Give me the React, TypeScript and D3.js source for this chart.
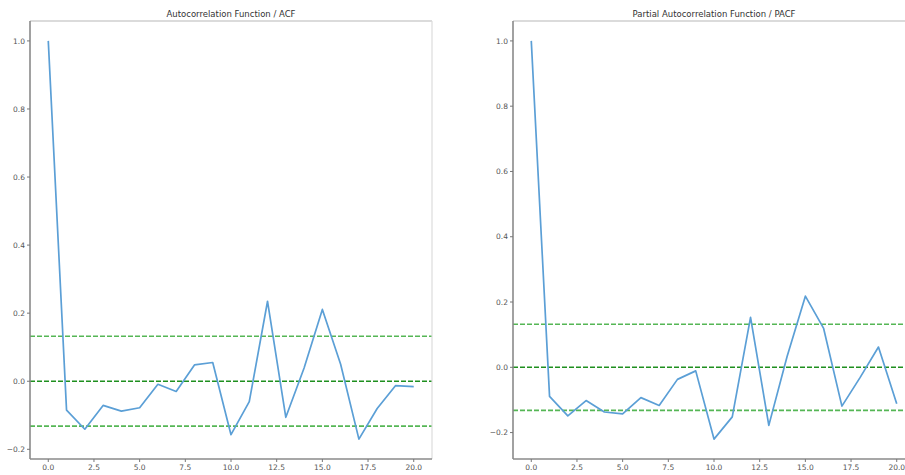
import React, { useEffect, useRef } from "react";
import * as d3 from "d3";

// lags 0..20
const lags = d3.range(0, 21);

const acfValues = [
  1.0, -0.085, -0.141, -0.071, -0.088, -0.078, -0.009, -0.03, 0.048, 0.055,
  -0.157, -0.06, 0.235, -0.106, 0.039, 0.211, 0.05, -0.17, -0.08, -0.013, -0.016,
];

const pacfValues = [
  1.0, -0.089, -0.149, -0.102, -0.137, -0.143, -0.093, -0.117, -0.037, -0.011,
  -0.22, -0.152, 0.153, -0.178, 0.033, 0.218, 0.119, -0.119, -0.031, 0.062, -0.112,
];

const confBound = 0.132;

const xTicks = [0, 2.5, 5, 7.5, 10, 12.5, 15, 17.5, 20];
const yTicks = [-0.2, 0, 0.2, 0.4, 0.6, 0.8, 1.0];

const panels = [
  { title: "Autocorrelation Function / ACF", values: acfValues, left: 30 },
  { title: "Partial Autocorrelation Function / PACF", values: pacfValues, left: 513 },
];

const W = 905;
const H = 475;
const panelW = 402;
const top = 21;
const bottom = 459;

const App = () => {
  const ref = useRef<SVGSVGElement>(null);

  useEffect(() => {
    const svg = d3.select(ref.current);
    svg.selectAll("*").remove();

    panels.forEach((p) => {
      const g = svg.append("g");
      const x = d3.scaleLinear().domain([-1, 21]).range([p.left, p.left + panelW]);
      const lo = d3.min(p.values)!;
      const hi = d3.max(p.values)!;
      const pad = (hi - lo) * 0.05;
      const y = d3.scaleLinear().domain([lo - pad, hi + pad]).range([bottom, top]);

      // confidence bounds and zero line
      [
        { v: confBound, c: "#55b655" },
        { v: 0, c: "#1f8f1f" },
        { v: -confBound, c: "#55b655" },
      ].forEach((h) => {
        g.append("line")
          .attr("x1", p.left)
          .attr("x2", p.left + panelW)
          .attr("y1", y(h.v))
          .attr("y2", y(h.v))
          .attr("stroke", h.c)
          .attr("stroke-width", 1.6)
          .attr("stroke-dasharray", "5,2");
      });

      const line = d3
        .line<number>()
        .x((_, i) => x(lags[i]))
        .y((d) => y(d));

      g.append("path")
        .datum(p.values)
        .attr("d", line)
        .attr("fill", "none")
        .attr("stroke", "#5b9fd6")
        .attr("stroke-width", 1.7)
        .attr("stroke-linejoin", "round");

      // spines
      g.append("line")
        .attr("x1", p.left).attr("x2", p.left + panelW)
        .attr("y1", top).attr("y2", top)
        .attr("stroke", "#cfcfcf").attr("stroke-width", 1.5);
      g.append("line")
        .attr("x1", p.left + panelW).attr("x2", p.left + panelW)
        .attr("y1", top).attr("y2", bottom)
        .attr("stroke", "#dcdcdc").attr("stroke-width", 1.2);
      g.append("line")
        .attr("x1", p.left).attr("x2", p.left)
        .attr("y1", top).attr("y2", bottom)
        .attr("stroke", "#8a8a8a").attr("stroke-width", 1.6);
      g.append("line")
        .attr("x1", p.left).attr("x2", p.left + panelW)
        .attr("y1", bottom).attr("y2", bottom)
        .attr("stroke", "#8a8a8a").attr("stroke-width", 1.6);

      // x ticks
      xTicks.forEach((t) => {
        g.append("line")
          .attr("x1", x(t)).attr("x2", x(t))
          .attr("y1", bottom).attr("y2", bottom + 3)
          .attr("stroke", "#777");
        g.append("text")
          .attr("x", x(t))
          .attr("y", bottom + 11)
          .attr("text-anchor", "middle")
          .attr("font-family", "DejaVu Sans")
          .attr("font-size", 7.5)
          .attr("fill", "#555")
          .text(t.toFixed(1));
      });

      // y ticks
      yTicks.forEach((t) => {
        g.append("line")
          .attr("x1", p.left - 3).attr("x2", p.left)
          .attr("y1", y(t)).attr("y2", y(t))
          .attr("stroke", "#777");
        g.append("text")
          .attr("x", p.left - 5)
          .attr("y", y(t))
          .attr("dy", "0.35em")
          .attr("text-anchor", "end")
          .attr("font-family", "DejaVu Sans")
          .attr("font-size", 7.5)
          .attr("fill", "#555")
          .text(t < 0 ? "\u2212" + Math.abs(t).toFixed(1) : t.toFixed(1));
      });

      g.append("text")
        .attr("x", p.left + panelW / 2)
        .attr("y", 16.5)
        .attr("text-anchor", "middle")
        .attr("font-family", "DejaVu Sans")
        .attr("font-size", 8.5)
        .attr("fill", "#333")
        .text(p.title);
    });
  }, []);

  return (
    <div style={{ position: "absolute", left: 0, top: 0, background: "#fff" }}>
      <svg ref={ref} width={W} height={H} style={{ display: "block" }} />
    </div>
  );
};

export default App;
